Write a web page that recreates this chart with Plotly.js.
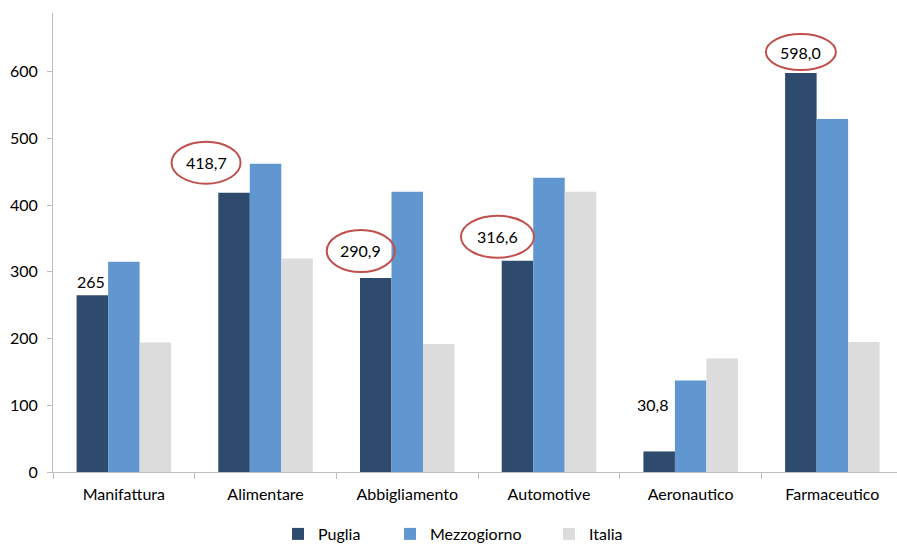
<!DOCTYPE html>
<html>
<head>
<meta charset="utf-8">
<script src="https://cdn.plot.ly/plotly-3.0.1.min.js"></script>
<style>html,body{margin:0;padding:0;background:#fff;}#chart{width:897px;height:544px;}</style>
</head>
<body>
<div id="chart"></div>
<script>
const categories = ["Manifattura", "Alimentare", "Abbigliamento", "Automotive", "Aeronautico", "Farmaceutico"];
const puglia = [265, 418.7, 290.9, 316.6, 30.8, 598.0];
const mezzogiorno = [315, 462, 420, 441, 137, 529];
const italia = [194, 320, 192, 420, 170, 195];
const pugliaLabels = ["265", "418,7", "290,9", "316,6", "30,8", "598,0"];
const circled = [false, true, true, true, false, true];

// label placement (pixel offsets from top-centre of the Puglia bar)
const labelDx = [-1, -28, -15, -20, -7, 0];
const labelDy = [14, 30, 27, 24, 47, 21];
const ellipseW = [0, 69, 68, 73, 0, 70];
const ellipseH = [0, 42, 42, 42, 0, 36];
const barPx = 31.5;

const font = {family: "Lato, 'Open Sans', sans-serif", size: 16, color: "#000"};

const traces = [
  {type: "bar", name: "Puglia", x: categories, y: puglia, marker: {color: "#2E4B6E"}, legend: "legend"},
  {type: "bar", name: "Mezzogiorno", x: categories, y: mezzogiorno, marker: {color: "#6097D1"}, legend: "legend2"},
  {type: "bar", name: "Italia", x: categories, y: italia, marker: {color: "#DCDCDC"}, legend: "legend3"}
];

const annotations = [];
const shapes = [];
categories.forEach((c, i) => {
  const dx = -barPx + labelDx[i];
  annotations.push({
    x: c, y: puglia[i], xref: "x", yref: "y",
    text: pugliaLabels[i], showarrow: false,
    xshift: dx, yshift: labelDy[i],
    font: font, xanchor: "center", yanchor: "middle"
  });
  if (circled[i]) {
    shapes.push({
      type: "circle", xref: "x", yref: "y",
      xsizemode: "pixel", ysizemode: "pixel",
      xanchor: i, yanchor: puglia[i],
      x0: dx - ellipseW[i] / 2, x1: dx + ellipseW[i] / 2,
      y0: labelDy[i] - ellipseH[i] / 2, y1: labelDy[i] + ellipseH[i] / 2,
      line: {color: "#C0504D", width: 2}
    });
  }
});

const legendBase = {orientation: "h", xref: "container", yref: "container",
  yanchor: "middle", y: 1 - 534 / 544, xanchor: "left",
  font: font, bgcolor: "rgba(0,0,0,0)", itemwidth: 30, tracegroupgap: 0};
const cx = p => (p - 40) / 897;

const layout = {
  width: 897, height: 544,
  margin: {l: 53, r: 0, t: 13, b: 72},
  paper_bgcolor: "#fff", plot_bgcolor: "#fff",
  font: font,
  barmode: "group", bargap: 0.333, bargroupgap: 0,
  showlegend: true,
  legend: Object.assign({}, legendBase, {x: cx(318)}),
  legend2: Object.assign({}, legendBase, {x: cx(430)}),
  legend3: Object.assign({}, legendBase, {x: cx(589)}),
  xaxis: {
    type: "category", range: [-0.5, 5.456],
    showline: true, linecolor: "#BEBEBE", linewidth: 1,
    ticks: "outside", tickson: "boundaries", ticklen: 6, tickcolor: "#BEBEBE",
    showgrid: false, zeroline: false, tickfont: font, ticklabelstandoff: 8, fixedrange: true,
    automargin: false
  },
  yaxis: {
    range: [0, 688], dtick: 100, tick0: 0,
    showline: true, linecolor: "#BEBEBE", linewidth: 1,
    ticks: "outside", ticklen: 5, tickcolor: "#BEBEBE",
    showgrid: false, zeroline: false, tickfont: font, ticklabelstandoff: 6, fixedrange: true,
    automargin: false
  },
  annotations: annotations,
  shapes: shapes
};

Plotly.newPlot("chart", traces, layout, {displayModeBar: false, staticPlot: true});
</script>
</body>
</html>
